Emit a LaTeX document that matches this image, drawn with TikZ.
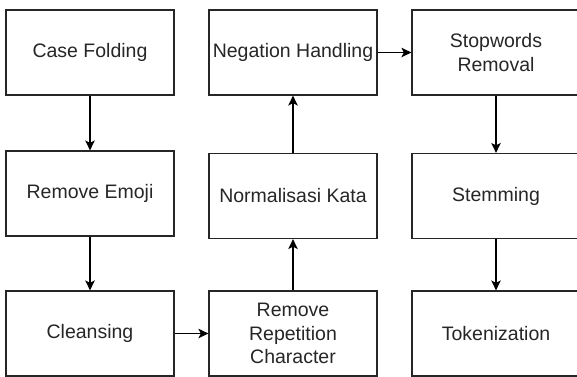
\documentclass[tikz,border=0pt]{standalone}
\usepackage{fontspec}
\setmainfont{Liberation Sans}
\usetikzlibrary{arrows.meta}
\begin{document}
\begin{tikzpicture}[x=1pt,y=-1pt,
  stepbox/.style={draw=black!85, line width=1.2pt, minimum width=168pt, minimum height=85pt,
    inner sep=0pt, align=center, font=\fontsize{19.5}{23.5}\selectfont, text=black!85},
  flow/.style={draw=black, line width=1.2pt, -{Stealth[length=10pt,width=9.5pt,inset=2.5pt]}}]
\useasboundingbox (0,0) rectangle (577,376);
\clip (0,0) rectangle (577,376);
\node[stepbox] (cf) at (90,52.5) {Case Folding};
\node[stepbox] (re) at (90,193.5) {Remove Emoji};
\node[stepbox] (cl) at (90,333.5) {Cleansing};
\node[stepbox] (rr) at (293,333.5) {Remove\\Repetition\\Character};
\node[stepbox] (nk) at (293,196) {Normalisasi Kata};
\node[stepbox] (nh) at (293,52.5) {Negation Handling};
\node[stepbox] (sr) at (496,52.5) {Stopwords\\Removal};
\node[stepbox] (st) at (496,196) {Stemming};
\node[stepbox] (tk) at (496,333.5) {Tokenization};
\draw[flow] (cf) -- (re);
\draw[flow] (re) -- (cl);
\draw[flow] (cl) -- (rr);
\draw[flow] (rr) -- (nk);
\draw[flow] (nk) -- (nh);
\draw[flow] (nh) -- (sr);
\draw[flow] (sr) -- (st);
\draw[flow] (st) -- (tk);
\end{tikzpicture}
\end{document}
